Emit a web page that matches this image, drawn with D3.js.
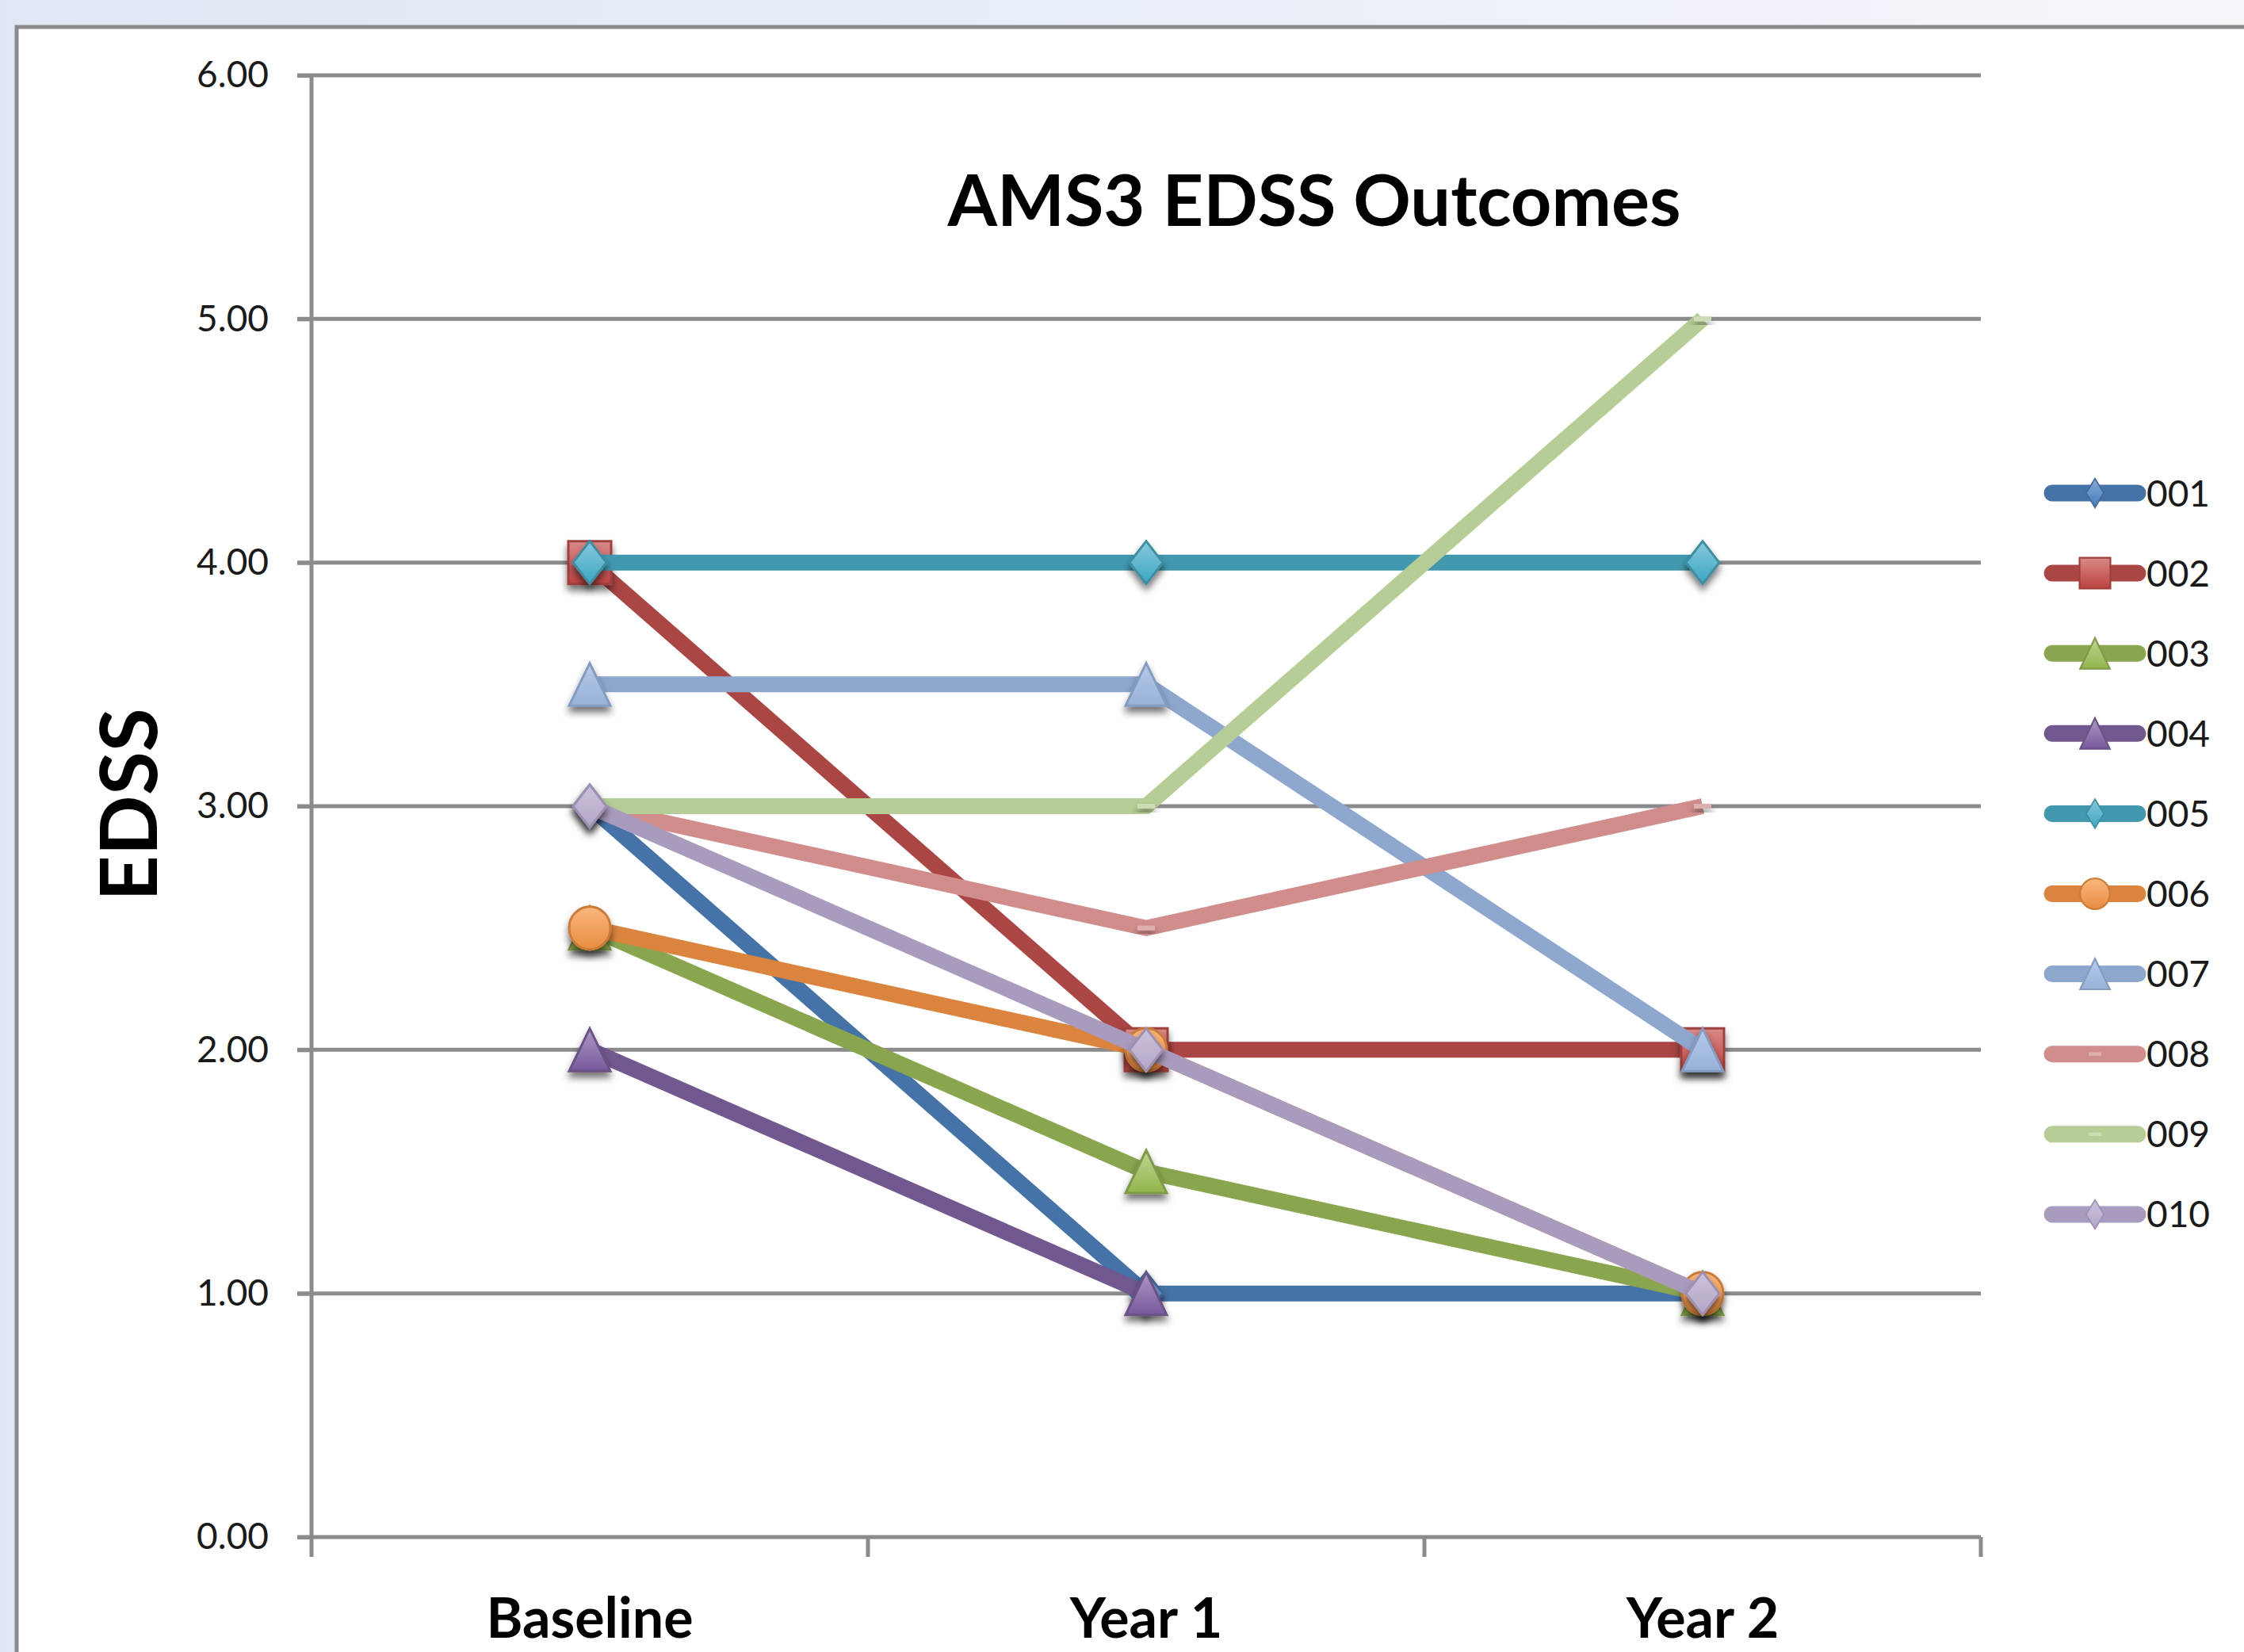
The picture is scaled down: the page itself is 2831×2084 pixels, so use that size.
<!DOCTYPE html>
<html>
<head>
<meta charset="utf-8">
<title>AMS3 EDSS Outcomes</title>
<script src="https://cdn.jsdelivr.net/npm/d3@7"></script>
<style>
  html, body { margin: 0; padding: 0; background: #ffffff; }
  svg { display: block; }
  text { font-family: Lato, "Open Sans", "DejaVu Sans", sans-serif; }
</style>
</head>
<body>
<svg id="chart" width="2831" height="2084"></svg>
<script>
// ---- Data -------------------------------------------------------------
const categories = ["Baseline", "Year 1", "Year 2"];
const seriesNames = ["001", "002", "003", "004", "005", "006", "007", "008", "009", "010"];
const s001 = [3.0, 1.0, 1.0];
const s002 = [4.0, 2.0, 2.0];
const s003 = [2.5, 1.5, 1.0];
const s004 = [2.0, 1.0, null];
const s005 = [4.0, 4.0, 4.0];
const s006 = [2.5, 2.0, 1.0];
const s007 = [3.5, 3.5, 2.0];
const s008 = [3.0, 2.5, 3.0];
const s009 = [3.0, 3.0, 5.0];
const s010 = [3.0, 2.0, 1.0];
const seriesValues = [s001, s002, s003, s004, s005, s006, s007, s008, s009, s010];
const yTickValues = [0, 1, 2, 3, 4, 5, 6];
const chartTitle = "AMS3 EDSS Outcomes";
const yAxisTitle = "EDSS";

// ---- Styles -----------------------------------------------------------
const seriesColors = ["#4572A7", "#AA4643", "#89A54E", "#71588F", "#4198AF",
                      "#DB843D", "#8EA7CE", "#D08D8C", "#B6CD95", "#A99BBD"];
const seriesMarkers = ["diamond", "square", "triangle", "triangle", "diamond",
                       "circle", "triangle", "dash", "dash", "diamond"];

const W = 2831, H = 2084;
const plot = { left: 393, right: 2499, top: 95, bottom: 1939 };
const gridColor = "#8b8b8b";

const svg = d3.select("#chart");
const defs = svg.append("defs");

// Soft drop shadow under the markers
const shadow = defs.append("filter").attr("id", "mshadow")
  .attr("x", "-50%").attr("y", "-50%").attr("width", "200%").attr("height", "220%");
shadow.append("feDropShadow").attr("dx", 0).attr("dy", 7)
  .attr("stdDeviation", 5).attr("flood-color", "#000").attr("flood-opacity", 0.55);

// Backdrop strip gradient
const bg = defs.append("linearGradient").attr("id", "backdrop")
  .attr("x1", 0).attr("y1", 0).attr("x2", 1).attr("y2", 0);
bg.append("stop").attr("offset", 0).attr("stop-color", "#dfe8f5");
bg.append("stop").attr("offset", 1).attr("stop-color", "#f4f6fa");

// One vertical gradient per series for the marker fills
seriesColors.forEach((c, i) => {
  const g = defs.append("linearGradient").attr("id", "mfill" + i)
    .attr("x1", 0).attr("y1", 0).attr("x2", 0).attr("y2", 1);
  const top = d3.hsl(d3.interpolateRgb(c, "#ffffff")(0.42));
  top.s = Math.min(1, top.s * 1.35);
  const bottom = d3.hsl(c);
  bottom.s = Math.min(1, bottom.s * 1.15);
  bottom.l = Math.min(1, bottom.l * 1.06);
  g.append("stop").attr("offset", 0).attr("stop-color", top.formatHex());
  g.append("stop").attr("offset", 1).attr("stop-color", bottom.formatHex());
});

// ---- Frame ------------------------------------------------------------
svg.append("rect").attr("x", 0).attr("y", 0).attr("width", W).attr("height", H)
  .attr("fill", "url(#backdrop)");
svg.append("rect").attr("x", 21).attr("y", 34).attr("width", W + 40).attr("height", H + 40)
  .attr("fill", "#ffffff").attr("stroke", "#8a8a8a").attr("stroke-width", 5);

// ---- Scales -----------------------------------------------------------
const x = d3.scaleBand().domain(categories).range([plot.left, plot.right]).padding(0);
const y = d3.scaleLinear().domain([0, 6]).range([plot.bottom, plot.top]);
const cx = c => x(c) + x.bandwidth() / 2;

// ---- Gridlines & axes ---------------------------------------------------
const tickOut = 18;
svg.append("g").selectAll("line").data(yTickValues).join("line")
  .attr("x1", plot.left - tickOut).attr("x2", plot.right)
  .attr("y1", d => y(d)).attr("y2", d => y(d))
  .attr("stroke", gridColor).attr("stroke-width", 5);

const yAxis = svg.append("g").attr("transform", `translate(${plot.left},0)`)
  .call(d3.axisLeft(y).tickValues(yTickValues).tickFormat(d3.format(".2f"))
    .tickSize(tickOut).tickPadding(36));
yAxis.select(".domain").remove();
yAxis.selectAll(".tick line").attr("stroke", gridColor).attr("stroke-width", 5);
yAxis.selectAll(".tick text").attr("font-size", 46).attr("fill", "#1a1a1a")
  .style("font-family", "Lato, 'Open Sans', sans-serif");

// vertical axis line, running down past the baseline into the first tick
svg.append("line").attr("x1", plot.left).attr("x2", plot.left)
  .attr("y1", plot.top).attr("y2", plot.bottom + 25)
  .attr("stroke", gridColor).attr("stroke-width", 5);

// category boundary ticks under the baseline
const boundaries = categories.map(c => x(c)).concat([x(categories[categories.length - 1]) + x.bandwidth()]);
svg.append("g").selectAll("line").data(boundaries.slice(1)).join("line")
  .attr("x1", d => d).attr("x2", d => d)
  .attr("y1", plot.bottom).attr("y2", plot.bottom + 25)
  .attr("stroke", gridColor).attr("stroke-width", 5);

const xAxis = svg.append("g").attr("transform", `translate(0,${plot.bottom})`)
  .call(d3.axisBottom(x).tickSize(0).tickPadding(0));
xAxis.select(".domain").remove();
xAxis.selectAll(".tick text")
  .attr("y", 0).attr("dy", 0)
  .attr("transform", "translate(0,127)")
  .attr("font-size", 70).attr("font-weight", "bold").attr("fill", "#000")
  .style("font-family", "Lato, 'Open Sans', sans-serif");

// ---- Titles -------------------------------------------------------------
svg.append("text").attr("x", 1658).attr("y", 285)
  .attr("text-anchor", "middle").attr("font-size", 90).attr("font-weight", "bold")
  .attr("fill", "#000").text(chartTitle);

svg.append("text").attr("transform", "translate(198,1015) rotate(-90)")
  .attr("text-anchor", "middle").attr("font-size", 100).attr("font-weight", "bold")
  .attr("fill", "#000").text(yAxisTitle);

// ---- Marker shapes -------------------------------------------------------
function markerPath(type, s) {
  // s: overall scale factor (1 in the plot, smaller in the legend)
  if (type === "diamond") {
    const w = 42 * s, h = 54 * s;
    return `M0,${-h / 2}L${w / 2},0L0,${h / 2}L${-w / 2},0Z`;
  }
  if (type === "square") {
    const w = 54 * s;
    return `M${-w / 2},${-w / 2}h${w}v${w}h${-w}Z`;
  }
  if (type === "triangle") {
    const w = 52 * s, h = 54 * s;
    return `M0,${-h / 2}L${w / 2},${h / 2}L${-w / 2},${h / 2}Z`;
  }
  if (type === "circle") {
    const rx = 26 * s, ry = 27 * s;
    return `M${-rx},0A${rx},${ry} 0 1,0 ${rx},0A${rx},${ry} 0 1,0 ${-rx},0Z`;
  }
  // short dash
  const w = 22 * s, h = 6 * s;
  return `M${-w / 2},${-h / 2}h${w}v${h}h${-w}Z`;
}

function drawMarker(sel, i, s, withShadow) {
  const type = seriesMarkers[i];
  const c = seriesColors[i];
  const p = sel.append("path").attr("d", markerPath(type, s));
  if (type === "dash") {
    p.attr("fill", d3.interpolateRgb(c, "#ffffff")(0.3)).attr("stroke", "none");
  } else {
    p.attr("fill", `url(#mfill${i})`)
      .attr("stroke", d3.color(c).darker(0.2)).attr("stroke-width", 3 * s);
  }
  if (withShadow) sel.attr("filter", "url(#mshadow)");
}

// ---- Series -------------------------------------------------------------
const line = d3.line()
  .defined(d => d.v !== null)
  .x(d => cx(d.c))
  .y(d => y(d.v));

seriesValues.forEach((vals, i) => {
  const pts = categories.map((c, k) => ({ c, v: vals[k] }));
  const g = svg.append("g").attr("class", "series s" + seriesNames[i]);
  g.append("path").attr("d", line(pts))
    .attr("fill", "none").attr("stroke", seriesColors[i])
    .attr("stroke-width", 20).attr("stroke-linejoin", "miter").attr("stroke-linecap", "butt");
  pts.filter(d => d.v !== null).forEach(d => {
    const m = g.append("g").attr("transform", `translate(${cx(d.c)},${y(d.v)})`);
    drawMarker(m, i, 1, true);
  });
});

// ---- Legend -------------------------------------------------------------
const legend = { x0: 2589, x1: 2697, textX: 2708, top: 622, step: 101.1 };
const lg = svg.append("g").attr("class", "legend");
seriesNames.forEach((name, i) => {
  const yy = legend.top + i * legend.step;
  const row = lg.append("g");
  row.append("line").attr("x1", legend.x0).attr("x2", legend.x1)
    .attr("y1", yy).attr("y2", yy)
    .attr("stroke", seriesColors[i]).attr("stroke-width", 21).attr("stroke-linecap", "round");
  const m = row.append("g").attr("transform", `translate(${(legend.x0 + legend.x1) / 2},${yy})`);
  const s = seriesMarkers[i] === "diamond" ? 0.68 : 0.72;
  drawMarker(m, i, s, false);
  if (seriesMarkers[i] === "diamond") m.select("path").attr("transform", "scale(0.78,1)");
  row.append("text").attr("x", legend.textX).attr("y", yy).attr("dy", "0.36em")
    .attr("font-size", 46).attr("fill", "#1a1a1a").text(name);
});
</script>
</body>
</html>
